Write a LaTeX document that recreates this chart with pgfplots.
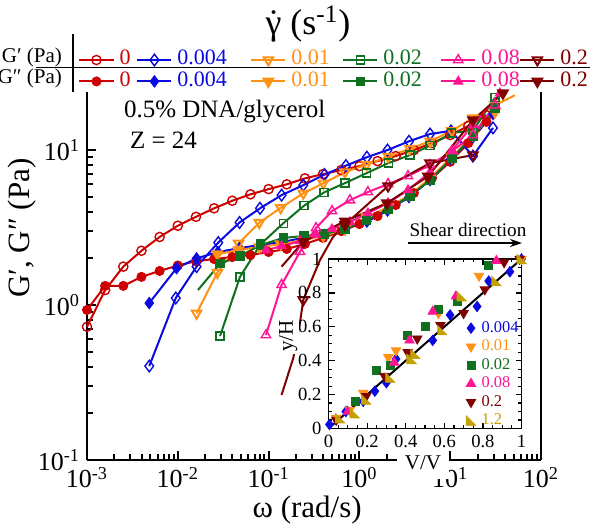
\documentclass[border=0pt]{standalone}
\usepackage{fontspec}
\setmainfont{Liberation Serif}
\usepackage{pgfplots}
\pgfplotsset{compat=1.18}
\usetikzlibrary{arrows.meta}

\definecolor{cR}{RGB}{204,0,0}
\definecolor{cB}{RGB}{10,10,225}
\definecolor{cO}{RGB}{255,145,20}
\definecolor{cG}{RGB}{16,112,32}
\definecolor{cP}{RGB}{255,20,147}
\definecolor{cM}{RGB}{128,0,0}
\definecolor{cY}{RGB}{196,160,0}

% right-angled triangle mark for the 1.2 series
\pgfdeclareplotmark{ltri}{%
  \pgfpathmoveto{\pgfqpoint{-\pgfplotmarksize}{\pgfplotmarksize}}%
  \pgfpathlineto{\pgfqpoint{-\pgfplotmarksize}{-\pgfplotmarksize}}%
  \pgfpathlineto{\pgfqpoint{\pgfplotmarksize}{-\pgfplotmarksize}}%
  \pgfpathclose\pgfusepathqfillstroke}

\newcommand{\fs}[1]{\fontsize{#1}{#1}\selectfont}
\newcommand{\gdot}{\leavevmode\setbox0=\hbox{γ}\rlap{\hbox to \wd0{\hss˙\hss}}\box0}

\pgfplotsset{
  gp/.style={forget plot, line width=1pt, mark options={solid, line width=0.7pt, fill=none}},
  gpp/.style={forget plot, line width=1pt, mark options={solid, line width=0.4pt}},
  lgp/.style={line width=1pt, mark options={solid, line width=0.7pt, fill=none}},
  lgpp/.style={line width=1pt, mark options={solid, line width=0.4pt}},
}

\begin{document}
\begin{tikzpicture}
\useasboundingbox (0pt,0pt) rectangle (295pt,-263pt);

\begin{axis}[
  at={(43.5pt,-230pt)}, anchor=south west,
  scale only axis, width=227pt, height=184pt,
  xmode=log, ymode=log,
  xmin=1e-3, xmax=1e2, ymin=0.1, ymax=23.7,
  axis x line*=bottom, axis y line*=left,
  axis line style={line width=1.25pt,-},
  tick align=inside,
  major tick length=4.5pt, minor tick length=2.8pt,
  tick style={black, line width=1pt},
  xtick={1e-3,1e-2,1e-1,1,10,100},
  xticklabels={10\textsuperscript{-3},10\textsuperscript{-2},10\textsuperscript{-1},10\textsuperscript{0},10\textsuperscript{1},10\textsuperscript{2}},
  ytick={0.1,1,10},
  yticklabels={10\textsuperscript{-1},10\textsuperscript{0},10\textsuperscript{1}},
  ticklabel style={font=\fs{13}},
  xlabel={ω (rad/s)}, ylabel={G′, G″ (Pa)},
  label style={font=\fs{15.5}},
  xlabel style={at={(axis description cs:0.485,-0.136)}, anchor=center},
  ylabel style={at={(axis description cs:-0.143,0.63)}, anchor=center},
  clip=false,
  legend columns=6,
  legend style={draw=none, fill=none, inner sep=0pt, row sep=0.4pt,
    at={(axis description cs:-0.0198,1.116)}, anchor=north west,
    font=\fs{11}, nodes={inner sep=0pt, text height=7.6pt, text depth=2.7pt},
    /tikz/every odd column/.append style={column sep=2.5pt},
    /tikz/every even column/.append style={column sep=0pt}},
]
% legend: G' row, then G'' row
\addlegendimage{cR, lgp, mark=o, mark size=2.3pt}
\addlegendentry{\makebox[8.4pt][l]{\textcolor{cR}{0}}}
\addlegendimage{cB, lgp, mark=diamond, mark size=2.9pt}
\addlegendentry{\makebox[36.4pt][l]{\textcolor{cB}{0.004}}}
\addlegendimage{cO, lgp, mark=triangle, mark size=2.7pt, mark options={rotate=180}}
\addlegendentry{\makebox[25.4pt][l]{\textcolor{cO}{0.01}}}
\addlegendimage{cG, lgp, mark=square, mark size=2pt}
\addlegendentry{\makebox[28.4pt][l]{\textcolor{cG}{0.02}}}
\addlegendimage{cP, lgp, mark=triangle, mark size=2.7pt}
\addlegendentry{\makebox[19pt][l]{\textcolor{cP}{0.08}}}
\addlegendimage{cM, lgp, mark=triangle, mark size=2.7pt, mark options={rotate=180}}
\addlegendentry{\makebox[14pt][l]{\textcolor{cM}{0.2}}}
\addlegendimage{cR, lgpp, mark=*, mark size=2.3pt}
\addlegendentry{\makebox[8.4pt][l]{\textcolor{cR}{0}}}
\addlegendimage{cB, lgpp, mark=diamond*, mark size=2.9pt}
\addlegendentry{\makebox[36.4pt][l]{\textcolor{cB}{0.004}}}
\addlegendimage{cO, lgpp, mark=triangle*, mark size=2.7pt, mark options={rotate=180}}
\addlegendentry{\makebox[25.4pt][l]{\textcolor{cO}{0.01}}}
\addlegendimage{cG, lgpp, mark=square*, mark size=2.1pt}
\addlegendentry{\makebox[28.4pt][l]{\textcolor{cG}{0.02}}}
\addlegendimage{cP, lgpp, mark=triangle*, mark size=2.7pt}
\addlegendentry{\makebox[19pt][l]{\textcolor{cP}{0.08}}}
\addlegendimage{cM, lgpp, mark=triangle*, mark size=2.7pt, mark options={rotate=180}}
\addlegendentry{\makebox[14pt][l]{\textcolor{cM}{0.2}}}

% gamma-dot = 0
\addplot[cR, gp, mark=o, mark size=2.3pt] coordinates {(0.001,0.724) (0.001585,1.25) (0.002512,1.77) (0.003981,2.24) (0.00631,2.75) (0.01,3.25) (0.01585,3.71) (0.02512,4.21) (0.03981,4.71) (0.0631,5.18) (0.1,5.60) (0.1585,6.01) (0.2512,6.57) (0.3981,7.0) (0.631,7.43) (1,7.88) (1.585,8.49) (2.512,9.15) (3.981,10.0) (6.31,11.1) (10,12.5) (15.85,14.3) (25.12,16.8)};
\addplot[cR, gpp, mark=*, mark size=2.3pt] coordinates {(0.001,0.93) (0.001585,1.33) (0.002512,1.33) (0.003981,1.52) (0.00631,1.66) (0.01,1.80) (0.01585,1.92) (0.02512,1.98) (0.03981,2.04) (0.0631,2.10) (0.1,2.20) (0.1585,2.30) (0.2512,2.48) (0.3981,2.71) (0.631,3.0) (1,3.33) (1.585,3.75) (2.512,4.42) (3.981,5.28) (6.31,6.6) (10,8.4) (15.85,11.1) (25.12,15.2)};
% 0.004
\addplot[cB, gp, mark=diamond, mark size=2.9pt] coordinates {(0.00485,0.404) (0.0095,1.11) (0.0161,1.77) (0.0279,2.53) (0.0479,3.41) (0.0804,4.21) (0.139,5.12) (0.241,5.94) (0.413,6.95) (0.711,7.94) (1.21,9.0) (2.04,10.0) (3.52,11.4) (6.0,12.7) (10.2,13.3) (17.8,9.15) (29.6,13.9)};
\addplot[cB, gpp, mark=diamond*, mark size=2.9pt] coordinates {(0.00485,1.03) (0.0097,1.73) (0.0161,2.0) (0.0277,2.20) (0.0479,2.33) (0.0804,2.44) (0.139,2.55) (0.241,2.71) (0.413,2.83) (0.711,3.14) (1.21,3.46) (2.04,4.07) (3.52,4.97) (6.0,6.4) (10.2,8.75) (17.8,12.1) (29.6,17.1)};
% 0.01
\addplot[cO, gp, mark=triangle, mark size=2.7pt, mark options={rotate=180}, mark indices={1,2,3,4,5,6,7,8,9,10,11,12,13,14,15}] coordinates {(0.0161,0.884) (0.0273,1.62) (0.0467,2.50) (0.079,3.40) (0.136,4.24) (0.241,5.26) (0.40,6.1) (0.693,7.21) (1.20,8.06) (2.08,9.08) (3.6,10.2) (6.0,11.4) (10.4,13.3) (17.8,16.1) (31.1,19.5) (51.7,22.6)};
\addplot[cO, gpp, mark=triangle*, mark size=2.7pt, mark options={rotate=180}] coordinates {(0.0273,2.13) (0.0467,2.26) (0.079,2.37) (0.136,2.47) (0.241,2.63) (0.40,2.79) (0.693,3.09) (1.20,3.70) (2.08,4.29) (3.6,5.13) (6.0,6.6) (10.4,9.0) (17.8,12.5) (31.1,17.6)};
% 0.02
\addplot[cG, gp, mark=square, mark size=2pt] coordinates {(0.0292,0.631) (0.0484,1.52) (0.0818,2.47) (0.145,3.37) (0.245,4.37) (0.407,5.33) (0.693,6.12) (1.20,7.1) (2.08,8.24) (3.6,9.28) (6.0,10.7) (10.4,12.9) (17.9,13.4) (31.1,21.8)};
\addplot[cG, gpp, mark=square*, mark size=2.1pt, mark indices={2,3,4,5,6,7,8,9,10,11,12,13,14,15}] coordinates {(0.01667,1.25) (0.0292,1.85) (0.0484,2.07) (0.0818,2.44) (0.145,2.71) (0.245,2.79) (0.407,2.87) (0.693,3.09) (1.20,3.53) (2.08,4.16) (3.6,5.05) (6.0,6.4) (10.4,8.87) (17.9,12.3) (31.1,18.7)};
% 0.08
\addplot[cP, gp, mark=triangle, mark size=2.7pt] coordinates {(0.0936,0.64) (0.139,1.35) (0.222,2.21) (0.333,3.14) (0.499,4.04) (0.787,4.75) (1.24,5.36) (2.07,6.04) (3.43,6.8) (6.0,8.0) (10.5,9.85) (17.8,12.5) (31.1,19.5)};
\addplot[cP, gpp, mark=triangle*, mark size=2.7pt] coordinates {(0.0936,2.26) (0.139,2.40) (0.222,2.59) (0.333,2.85) (0.499,3.09) (0.787,3.43) (1.24,3.92) (2.07,4.55) (3.43,5.52) (6.0,7.21) (10.5,10.0) (17.8,14.5) (35.3,23.3)};
% 0.2
\addplot[cM, gp, mark=triangle, mark size=2.7pt, mark options={rotate=180}, mark indices={4,7,8,9,10}] coordinates {(0.139,0.263) (0.187,0.455) (0.222,0.776) (0.241,1.08) (0.368,1.95) (0.512,2.75) (0.693,3.3) (2.07,5.86) (6.0,8.24) (17.8,9.28)};
\addplot[cM, gpp, mark=triangle*, mark size=2.7pt, mark options={rotate=180}, mark indices={2,3,4,5,6,7}] coordinates {(0.139,1.77) (0.241,2.56) (0.693,3.47) (2.01,4.55) (5.7,6.76) (17.8,15.6) (38.1,23.3)};

\draw[line width=1.25pt] (rel axis cs:1,0) -- (rel axis cs:1,1);
\end{axis}

% header of the legend table
\node[font=\fs{18}] at (154pt,-12pt) {\gdot\ (s\textsuperscript{-1})};
\node[anchor=east, font=\fs{10.5}] at (34.5pt,-28.5pt) {G′ (Pa)};
\node[anchor=east, font=\fs{10.5}] at (34.5pt,-39.2pt) {G″ (Pa)};
\draw[line width=0.8pt] (36.5pt,-17pt) -- (36.5pt,-46pt);
\draw[line width=0.8pt] (18pt,-33.8pt) -- (300pt,-33.8pt);

\node[anchor=west, font=\fs{12.5}] at (58.5pt,-56pt) {0.5\% DNA/glycerol};
\node[anchor=west, font=\fs{12.5}] at (61.5pt,-70pt) {Z = 24};

\node[font=\fs{9.6}] at (234pt,-115pt) {Shear direction};
\draw[line width=0.8pt, -{Stealth[length=6pt,width=4pt]}] (204pt,-121.5pt) -- (261pt,-121.5pt);

% inset: velocity profile
\begin{axis}[
  at={(164.25pt,-214.25pt)}, anchor=south west,
  scale only axis, width=96.5pt, height=84.75pt,
  xmin=0, xmax=1, ymin=0, ymax=1,
  xtick={0,0.2,0.4,0.6,0.8,1}, ytick={0,0.2,0.4,0.6,0.8,1},
  minor tick num=3,
  tick align=inside, major tick length=3pt, minor tick length=1.7pt,
  tick style={black, line width=0.6pt},
  axis line style={line width=0.9pt},
  axis background/.style={fill=white},
  /pgf/number format/assume math mode=true,
  ticklabel style={font=\fs{9.3}},
  xlabel={V/V}, ylabel={y/H},
  label style={font=\fs{10.5}, fill=white},
  xlabel style={at={(axis description cs:0.49,-0.215)}, anchor=center, inner xsep=4pt, inner ysep=2.5pt, text height=7pt, text depth=2pt},
  ylabel style={at={(axis description cs:-0.21,0.546)}, anchor=center, inner xsep=1pt, inner ysep=0.5pt, text height=7.5pt, text depth=2.5pt},
  legend style={draw=none, fill=none, inner sep=0pt,
    at={(axis description cs:0.712,0.649)}, anchor=north west, font=\fs{8.2},
    nodes={inner sep=0pt, text height=6.6pt, text depth=2.65pt},
    /tikz/every odd column/.append style={column sep=3pt}},
  legend image code/.code={\draw[#1] plot coordinates {(0pt,0pt)};},
  legend cell align=left,
]
\addplot[cB, only marks, mark=diamond*, mark size=2.6pt] coordinates {(0.005,0.024) (0.09,0.10) (0.18,0.16) (0.24,0.22) (0.30,0.27) (0.35,0.41) (0.54,0.52) (0.63,0.67) (0.77,0.72) (0.83,0.87) (0.94,0.925) (1.0,1.0)};
\addlegendentry{\textcolor{cB}{0.004}}
\addplot[cO, only marks, mark=triangle*, mark size=2.7pt, mark options={rotate=180}] coordinates {(0.04,0.06) (0.11,0.11) (0.18,0.21) (0.31,0.42) (0.35,0.46) (0.57,0.68) (0.78,0.90) (1.0,1.0)};
\addlegendentry{\textcolor{cO}{0.01}}
\addplot[cG, only marks, mark=square*, mark size=2pt] coordinates {(0.14,0.16) (0.25,0.34) (0.32,0.375) (0.41,0.55) (0.50,0.60) (0.57,0.70) (0.67,0.75) (0.83,0.96)};
\addlegendentry{\textcolor{cG}{0.02}}
\addplot[cP, only marks, mark=triangle*, mark size=2.7pt] coordinates {(0.10,0.10) (0.34,0.39) (0.42,0.52) (0.54,0.69) (0.66,0.78) (0.87,0.99)};
\addlegendentry{\textcolor{cP}{0.08}}
\addplot[cM, only marks, mark=triangle*, mark size=2.7pt, mark options={rotate=180}] coordinates {(0.04,0.05) (0.195,0.19) (0.29,0.31) (0.41,0.45) (0.46,0.53) (0.58,0.61) (0.70,0.68) (0.81,0.82) (0.91,0.98) (0.99,1.0)};
\addlegendentry{\textcolor{cM}{0.2}}
\addplot[cY, only marks, mark=ltri, mark size=2.3pt] coordinates {(0.06,0.06) (0.135,0.09) (0.195,0.17) (0.32,0.30) (0.43,0.41) (0.45,0.44) (0.59,0.58) (0.69,0.78) (0.87,0.87) (1.0,1.0)};
\addlegendentry{\textcolor{cY}{1.2}}
\addplot[black, line width=1pt, forget plot] coordinates {(0,0) (1,1)};
\end{axis}
\end{tikzpicture}
\end{document}
